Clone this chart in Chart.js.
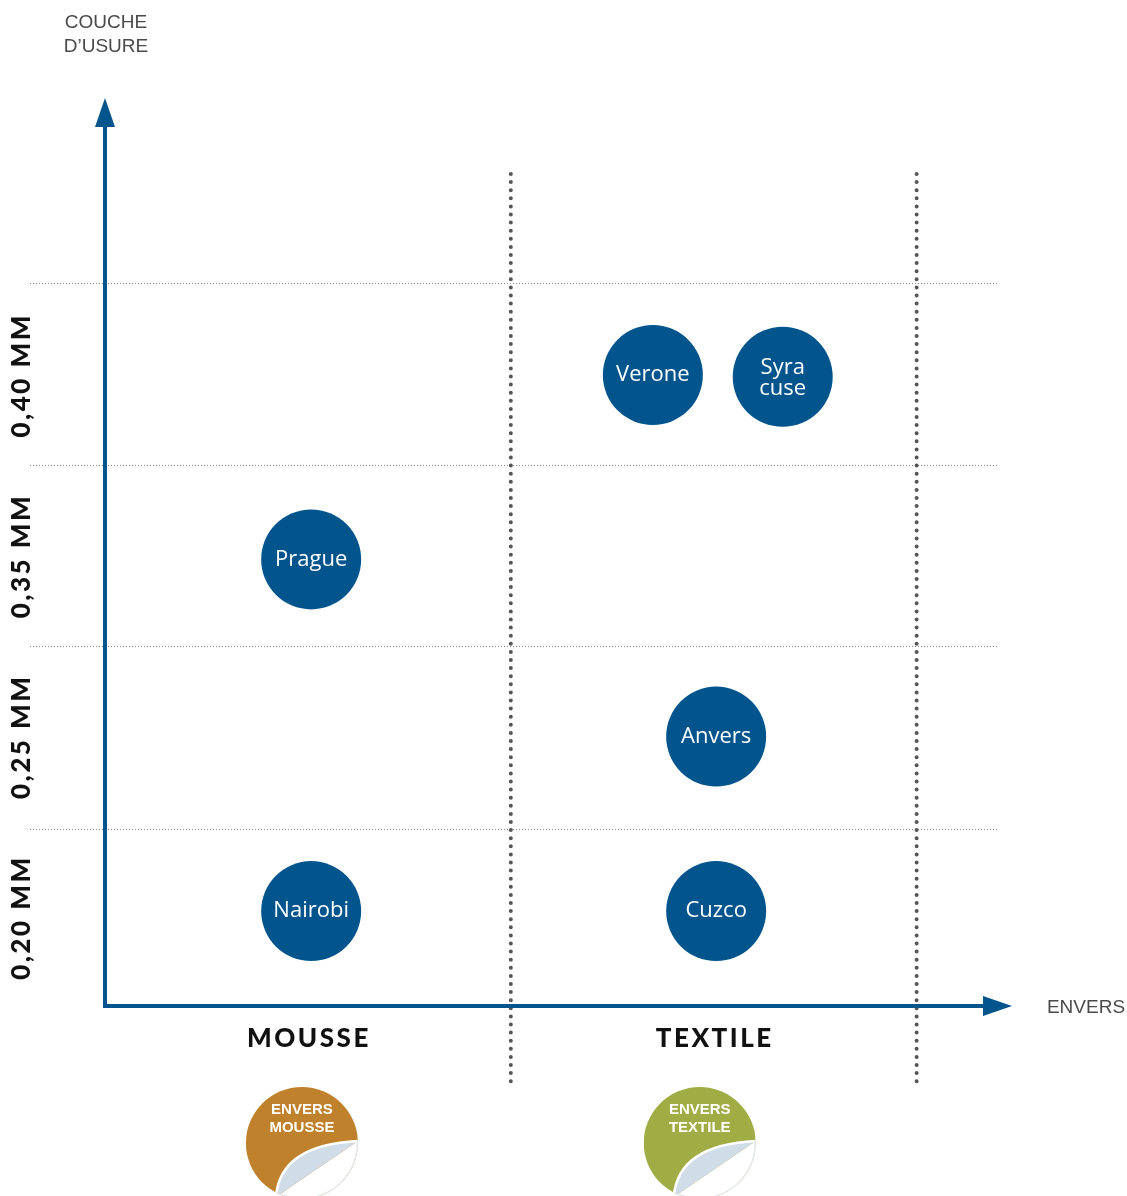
<!DOCTYPE html>
<html>
<head>
<meta charset="utf-8">
<script src="https://cdn.jsdelivr.net/npm/chart.js@4"></script>
<style>
  body { margin: 0; background: #fff; }
  #wrap { position: relative; width: 1127px; height: 1196px; }
</style>
</head>
<body>
<div id="wrap"><canvas id="thicknessChart"></canvas></div>
<script>
// categories on x (backing type) and y (wear layer thickness)
const backingCategories = ["MOUSSE", "TEXTILE"];
const backingPositions = [0.5, 1.5];
const backingBadges = [["ENVERS", "MOUSSE"], ["ENVERS", "TEXTILE"]];
const thicknessLabels = ["0,20 MM", "0,25 MM", "0,35 MM", "0,40 MM"];
const thicknessPositions = [0.5, 1.5, 2.5, 3.5];
const bandLines = [0.98, 1.99, 2.99, 4];
const columnLines = [1, 2];

// products
const productNames = ["Nairobi", "Cuzco", "Anvers", "Prague", "Verone", "Syra|cuse"];
const productBacking = [0.508, 1.506, 1.506, 0.508, 1.35, 1.67];
const productLevel = [0.525, 0.525, 1.49, 2.47, 3.49, 3.48];

const BLUE = "#02558c";

const decorPlugin = {
  id: "decor",
  beforeDatasetsDraw(chart) {
    const { ctx, scales: { x, y } } = chart;
    ctx.save();
    // horizontal dotted band lines
    ctx.strokeStyle = "#8a8a8a";
    ctx.lineWidth = 1;
    ctx.setLineDash([1, 2]);
    bandLines.forEach(v => {
      const py = Math.round(y.getPixelForValue(v)) + 0.5;
      ctx.beginPath();
      ctx.moveTo(30, py);
      ctx.lineTo(997, py);
      ctx.stroke();
    });
    // vertical dotted column lines
    ctx.strokeStyle = "#555";
    ctx.lineWidth = 4;
    ctx.lineCap = "round";
    ctx.setLineDash([0, 8.1]);
    columnLines.forEach(v => {
      const px = x.getPixelForValue(v);
      ctx.beginPath();
      ctx.moveTo(px, 174);
      ctx.lineTo(px, 1086);
      ctx.stroke();
    });
    ctx.setLineDash([]);
    ctx.lineCap = "butt";

    // axes with arrows
    const x0 = x.getPixelForValue(0), y0 = y.getPixelForValue(0);
    const xEnd = x.right, yEnd = 98;
    ctx.strokeStyle = BLUE;
    ctx.fillStyle = BLUE;
    ctx.lineWidth = 4;
    ctx.beginPath();
    ctx.moveTo(x0, y0 + 2);
    ctx.lineTo(x0, yEnd + 20);
    ctx.moveTo(x0 - 2, y0);
    ctx.lineTo(xEnd - 20, y0);
    ctx.stroke();
    ctx.beginPath();
    ctx.moveTo(x0, yEnd);
    ctx.lineTo(x0 - 10, yEnd + 29);
    ctx.lineTo(x0 + 10, yEnd + 29);
    ctx.closePath();
    ctx.fill();
    ctx.beginPath();
    ctx.moveTo(xEnd, y0);
    ctx.lineTo(xEnd - 29, y0 - 10);
    ctx.lineTo(xEnd - 29, y0 + 10);
    ctx.closePath();
    ctx.fill();

    // axis titles
    ctx.fillStyle = "#4a4a4a";
    ctx.font = "300 19px 'Liberation Sans', Arial, sans-serif";
    ctx.textAlign = "center";
    ctx.textBaseline = "middle";
    ctx.fillText("COUCHE", 106, 23);
    ctx.fillText("D\u2019USURE", 106, 47);
    ctx.fillText("ENVERS", 1086, 1008);

    // thickness labels (rotated)
    ctx.fillStyle = "#111";
    ctx.font = "900 26px Lato, 'DejaVu Sans', sans-serif";
    ctx.letterSpacing = "2.5px";
    thicknessLabels.forEach((t, i) => {
      const py = y.getPixelForValue(thicknessPositions[i]);
      ctx.save();
      ctx.translate(22, py + 3);
      ctx.rotate(-Math.PI / 2);
      ctx.fillText(t, 1, 0);
      ctx.restore();
    });

    // backing labels
    const badgeShift = [-6, -14];
    backingCategories.forEach((c, i) => {
      const px = x.getPixelForValue(backingPositions[i]);
      ctx.letterSpacing = "2.5px";
      ctx.fillStyle = "#111";
      ctx.font = "900 26px Lato, 'DejaVu Sans', sans-serif";
      ctx.fillText(c, px + 1, 1039);
      ctx.letterSpacing = "0px";
      drawBadge(ctx, px + badgeShift[i], 1143, backingBadges[i], i === 0 ? "#c0812d" : "#a0ad45");
    });
    ctx.restore();
  },
  afterDatasetsDraw(chart) {
    const { ctx } = chart;
    const meta = chart.getDatasetMeta(0);
    ctx.save();
    ctx.fillStyle = "#fff";
    ctx.font = "22px 'Open Sans', 'Noto Sans', sans-serif";
    ctx.textAlign = "center";
    ctx.textBaseline = "middle";
    meta.data.forEach((el, i) => {
      const lines = productNames[i].split("|");
      if (lines.length === 1) {
        ctx.fillText(lines[0], el.x, el.y);
      } else {
        ctx.fillText(lines[0], el.x, el.y - 9);
        ctx.fillText(lines[1], el.x, el.y + 12);
      }
    });
    ctx.restore();
  }
};

function drawBadge(ctx, cx, cy, lines, color) {
  const r = 56;
  ctx.save();
  ctx.beginPath();
  ctx.arc(cx, cy, r, 0, Math.PI * 2);
  ctx.clip();
  ctx.fillStyle = color;
  ctx.fillRect(cx - r, cy - r, 2 * r, 2 * r);
  // peeled corner: white beyond the chord
  const ax = cx + 56, ay = cy - 2;
  const bx = cx - 26, by = cy + 54;
  ctx.fillStyle = "#fff";
  ctx.beginPath();
  ctx.moveTo(ax, ay);
  ctx.lineTo(bx, by);
  ctx.lineTo(cx + r, cy + r);
  ctx.closePath();
  ctx.fill();
  ctx.beginPath();
  ctx.moveTo(bx, by);
  ctx.quadraticCurveTo(cx - 22, cy + 2, ax, ay);
  ctx.lineTo(bx, by);
  ctx.closePath();
  ctx.fillStyle = "#d1dce9";
  ctx.fill();
  ctx.strokeStyle = "#fff";
  ctx.lineWidth = 2.5;
  ctx.beginPath();
  ctx.moveTo(bx, by);
  ctx.quadraticCurveTo(cx - 22, cy + 2, ax, ay);
  ctx.stroke();
  ctx.restore();
  // faint outline on the peeled side
  ctx.save();
  ctx.strokeStyle = "#dde3ea";
  ctx.lineWidth = 1;
  ctx.beginPath();
  ctx.arc(cx, cy, r - 0.5, -0.05, Math.PI * 0.62);
  ctx.stroke();
  ctx.fillStyle = "#fff";
  ctx.font = "bold 15px 'Liberation Sans', Arial, sans-serif";
  ctx.textAlign = "center";
  ctx.textBaseline = "middle";
  ctx.fillText(lines[0], cx, cy - 33);
  ctx.fillText(lines[1], cx, cy - 15);
  ctx.restore();
}

const points = productNames.map((n, i) => ({ x: productBacking[i], y: productLevel[i], r: 50 }));

new Chart(document.getElementById("thicknessChart"), {
  type: "bubble",
  data: {
    datasets: [{
      label: "Produits",
      data: points,
      backgroundColor: BLUE,
      borderWidth: 0,
      hoverBackgroundColor: BLUE
    }]
  },
  options: {
    responsive: true,
    maintainAspectRatio: false,
    animation: false,
    events: [],
    layout: { padding: { left: 105, right: 115, top: 102, bottom: 190 } },
    plugins: { legend: { display: false }, tooltip: { enabled: false } },
    scales: {
      x: { type: "linear", min: 0, max: 2.235, display: false },
      y: { type: "linear", min: 0, max: 5, display: false }
    }
  },
  plugins: [decorPlugin]
});
</script>
</body>
</html>
